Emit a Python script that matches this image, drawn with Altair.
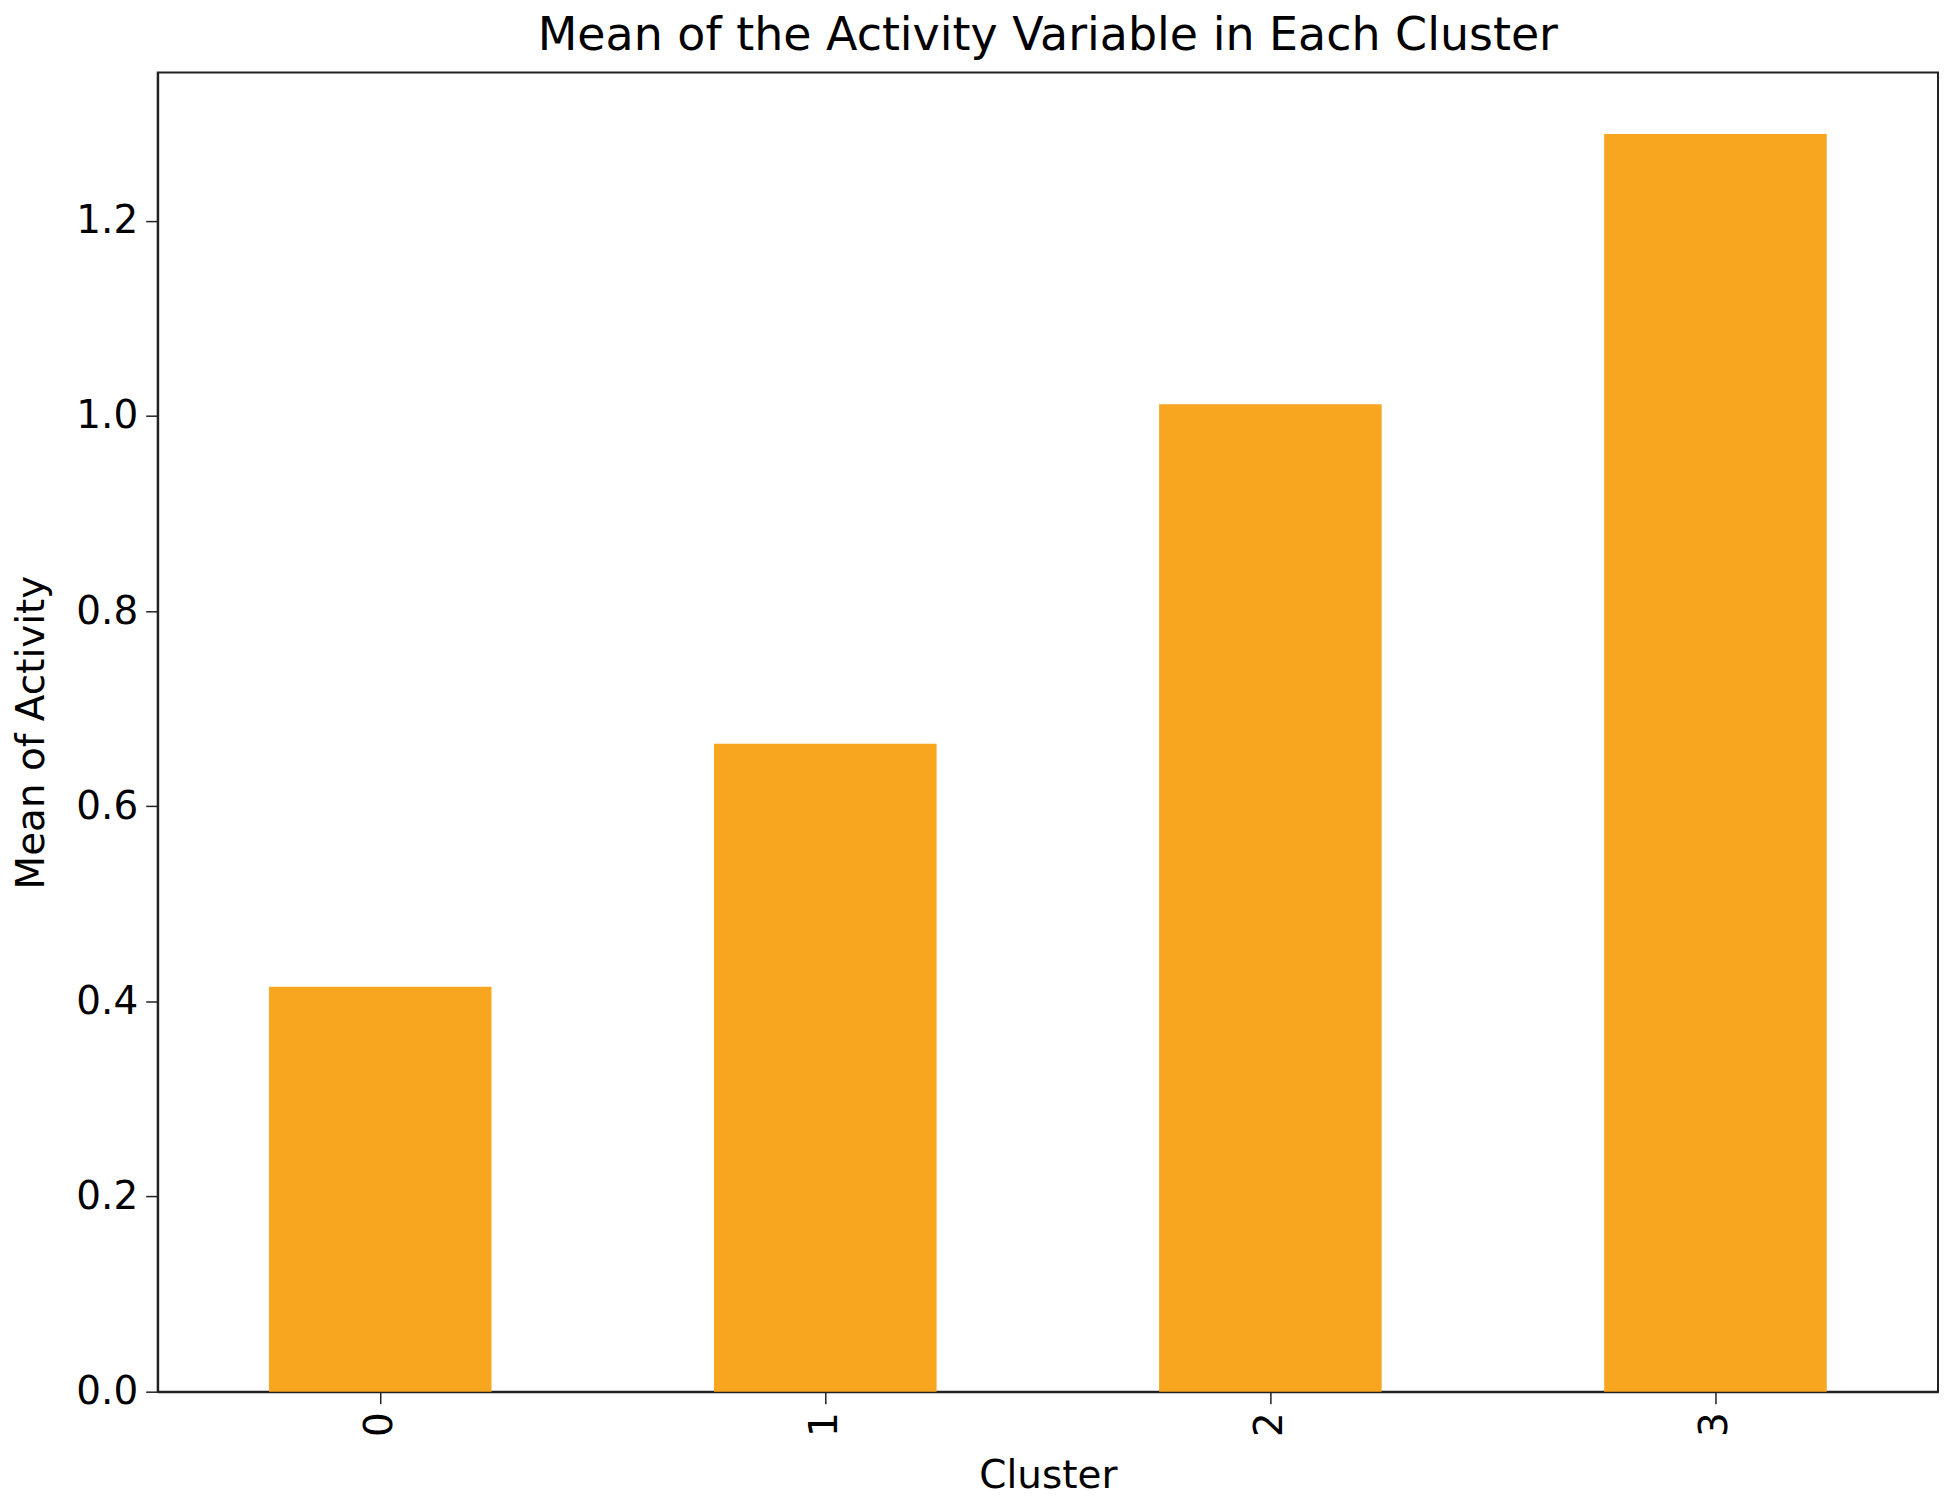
import altair as alt
import pandas as pd

clusters = ["0", "1", "2", "3"]
means = [0.415, 0.664, 1.012, 1.289]
y_ticks = [0.0, 0.2, 0.4, 0.6, 0.8, 1.0, 1.2]

df = pd.DataFrame({"Cluster": clusters, "Mean": means})

FONT = "DejaVu Sans"

chart = alt.Chart(df).mark_bar(color="#F8A51F").encode(
    x=alt.X(
        "Cluster:N",
        sort=clusters,
        scale=alt.Scale(paddingInner=0.5, paddingOuter=0.25),
        axis=alt.Axis(
            title="Cluster",
            labelAngle=270,
            labelFontSize=39,
            titleFontSize=39,
            labelFont=FONT,
            titleFont=FONT,
            titleFontWeight="normal",
            labelColor="#000",
            titleColor="#000",
            tickSize=12,
            tickColor="#222",
            tickWidth=1.5,
            domainColor="#222",
            domainWidth=2,
            labelPadding=8,
            titlePadding=20,
            labelAlign="right",
            labelBaseline="middle",
        ),
    ),
    y=alt.Y(
        "Mean:Q",
        scale=alt.Scale(domain=[0, 1.352], nice=False, zero=True),
        axis=alt.Axis(
            title="Mean of Activity",
            values=y_ticks,
            format=".1f",
            grid=False,
            labelFontSize=39,
            titleFontSize=39,
            labelFont=FONT,
            titleFont=FONT,
            titleFontWeight="normal",
            labelColor="#000",
            titleColor="#000",
            tickSize=12,
            tickColor="#222",
            tickWidth=1.5,
            domainColor="#222",
            domainWidth=2,
            labelPadding=8,
            titlePadding=24,
        ),
    ),
).properties(
    width=1784,
    height=1322,
    title=alt.TitleParams(
        "Mean of the Activity Variable in Each Cluster",
        font=FONT,
        fontSize=46,
        fontWeight="normal",
        color="#000",
        anchor="middle",
        offset=12,
    ),
    autosize=alt.AutoSizeParams(type="none"),
    padding={"left": 150, "top": 63, "right": 4, "bottom": 108},
).configure(
    background="white",
    view=alt.ViewConfig(stroke="#222", strokeWidth=2),
)

chart.save("out.html", embed_options={"renderer": "svg", "actions": False})
